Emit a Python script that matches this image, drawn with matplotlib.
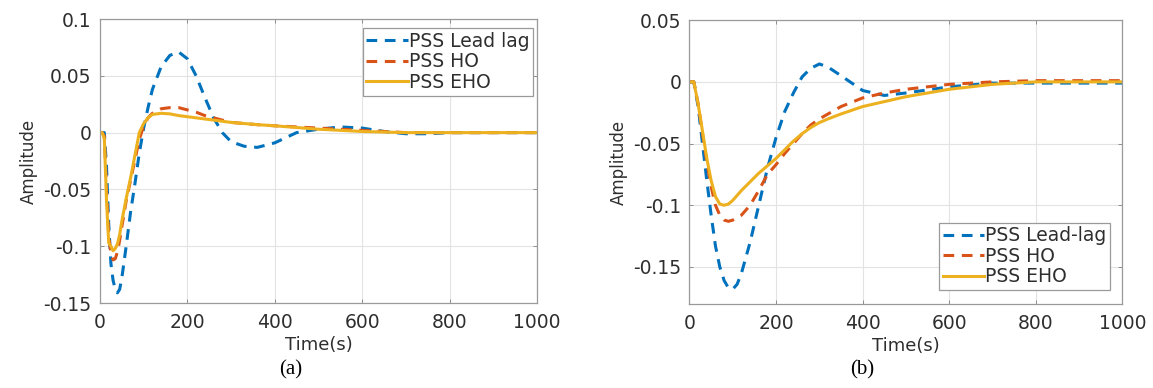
import matplotlib
matplotlib.use("Agg")
import matplotlib.pyplot as plt
from matplotlib.ticker import FixedLocator, FixedFormatter

# ---- data (a) ----
t_a = [0, 5, 10, 15, 20, 25, 30, 35, 40, 45, 50, 60, 70, 80, 90, 100, 110, 120,
       140, 160, 180, 200, 220, 240, 260, 280, 300, 330, 360, 400, 450, 500,
       550, 600, 650, 700, 750, 800, 900, 1000]
lead_a = [0, 0, 0, -0.03, -0.08, -0.115, -0.13, -0.138, -0.141, -0.138, -0.128,
          -0.1, -0.07, -0.045, -0.018, 0.004, 0.022, 0.038, 0.058, 0.068, 0.071,
          0.065, 0.05, 0.031, 0.013, 0.0, -0.008, -0.012, -0.013, -0.009, 0.0,
          0.003, 0.005, 0.004, 0.001, -0.001, -0.001, 0.0, 0.0, 0.0]
ho_a = [0, 0, -0.003, -0.05, -0.09, -0.107, -0.112, -0.111, -0.105, -0.095,
        -0.083, -0.06, -0.042, -0.024, -0.006, 0.006, 0.013, 0.017, 0.021,
        0.022, 0.022, 0.02, 0.018, 0.015, 0.013, 0.011, 0.009, 0.008, 0.007,
        0.006, 0.005, 0.004, 0.003, 0.002, 0.001, 0.0, 0.0, 0.0, 0.0, 0.0]
eho_a = [0, 0, -0.005, -0.06, -0.097, -0.1, -0.104, -0.102, -0.098, -0.09,
         -0.078, -0.058, -0.04, -0.02, 0.0, 0.008, 0.013, 0.016, 0.017, 0.0165,
         0.015, 0.014, 0.013, 0.012, 0.011, 0.01, 0.009, 0.008, 0.007, 0.006,
         0.0045, 0.003, 0.002, 0.001, 0.0005, 0.0, 0.0, 0.0, 0.0, 0.0]

# ---- data (b) ----
t_b = [0, 10, 20, 30, 40, 50, 60, 70, 80, 90, 100, 110, 120, 140, 160, 180, 200,
       220, 240, 260, 280, 300, 320, 350, 400, 450, 500, 600, 700, 800, 900, 1000]
lead_b = [0, 0, -0.02, -0.05, -0.08, -0.108, -0.133, -0.15, -0.161, -0.167,
          -0.168, -0.164, -0.155, -0.13, -0.1, -0.07, -0.045, -0.024, -0.009,
          0.004, 0.011, 0.0145, 0.012, 0.005, -0.007, -0.011, -0.009, -0.004,
          -0.001, -0.001, -0.001, -0.001]
ho_b = [0, 0, -0.018, -0.042, -0.065, -0.085, -0.1, -0.108, -0.112, -0.113,
        -0.112, -0.11, -0.108, -0.1, -0.088, -0.075, -0.067, -0.058, -0.05,
        -0.042, -0.035, -0.03, -0.026, -0.02, -0.013, -0.009, -0.006, -0.002,
        0.0, 0.001, 0.001, 0.001]
eho_b = [0, 0, -0.018, -0.04, -0.062, -0.08, -0.093, -0.099, -0.1, -0.099,
         -0.096, -0.092, -0.088, -0.081, -0.074, -0.068, -0.062, -0.055, -0.048,
         -0.042, -0.037, -0.033, -0.03, -0.026, -0.02, -0.016, -0.012, -0.006,
         -0.002, 0.0, 0.0, 0.0]

xticks = [0, 200, 400, 600, 800, 1000]
yticks_a = [-0.15, -0.1, -0.05, 0, 0.05, 0.1]
ylabels_a = ["-0.15", "-0.1", "-0.05", "0", "0.05", "0.1"]
yticks_b = [-0.15, -0.1, -0.05, 0, 0.05]
ylabels_b = ["-0.15", "-0.1", "-0.05", "0", "0.05"]
names_a = ["PSS Lead lag", "PSS HO", "PSS EHO"]
names_b = ["PSS Lead-lag", "PSS HO", "PSS EHO"]

colors = ["#0072BD", "#D95319", "#EDB120"]
styles = [(0, (3.5, 2.5)), (0, (3.5, 2.5)), "-"]

plt.rcParams["font.family"] = ["DejaVu Sans"]

fig = plt.figure(figsize=(11.53, 3.88), dpi=100)
ax1 = fig.add_axes([0.0867, 0.219, 0.379, 0.732])
ax2 = fig.add_axes([0.598, 0.2165, 0.3755, 0.7315])


def style(ax, yt, yl, ylim):
    ax.set_xlim(0, 1000)
    ax.set_ylim(*ylim)
    ax.xaxis.set_major_locator(FixedLocator(xticks))
    ax.yaxis.set_major_locator(FixedLocator(yt))
    ax.yaxis.set_major_formatter(FixedFormatter(yl))
    ax.grid(True, color="#e3e3e3", linewidth=0.8)
    ax.set_axisbelow(True)
    ax.tick_params(direction="in", length=3, width=0.6, top=True, right=True,
                   colors="#808080", labelcolor="#2e2e2e", labelsize=13.5)
    ax.tick_params(axis="x", pad=7)
    ax.tick_params(axis="y", pad=6)
    for s in ax.spines.values():
        s.set_color("#9a9a9a")
        s.set_linewidth(0.9)
    ax.set_xlabel("Time(s)", fontsize=13, color="#2e2e2e", labelpad=3)
    ax.set_ylabel("Amplitude", fontsize=12, color="#2e2e2e", labelpad=4)


for ys, c, ls, n in zip([lead_a, ho_a, eho_a], colors, styles, names_a):
    ax1.plot(t_a, ys, color=c, linestyle=ls, linewidth=2.2, label=n)
for ys, c, ls, n in zip([lead_b, ho_b, eho_b], colors, styles, names_b):
    ax2.plot(t_b, ys, color=c, linestyle=ls, linewidth=2.2, label=n)

style(ax1, yticks_a, ylabels_a, (-0.15, 0.1))
style(ax2, yticks_b, ylabels_b, (-0.18, 0.05))

for ax, loc, anchor in [(ax1, "upper right", (0.991, 0.968)),
                        (ax2, "lower right", (0.972, 0.049))]:
    leg = ax.legend(loc=loc, bbox_to_anchor=anchor, borderaxespad=0,
                    fontsize=13.5, handlelength=2.2, handletextpad=0.05,
                    labelspacing=0.08, borderpad=0.2, fancybox=False,
                    framealpha=1)
    leg.get_frame().set_edgecolor("#9a9a9a")
    leg.get_frame().set_linewidth(0.9)
    for tx in leg.get_texts():
        tx.set_color("#2e2e2e")

fig.text(0.252, 0.046, "(a)", family="Liberation Serif", fontsize=15,
         ha="center", va="center")
fig.text(0.748, 0.046, "(b)", family="Liberation Serif", fontsize=15,
         ha="center", va="center")

fig.savefig("out.png", dpi=100)
